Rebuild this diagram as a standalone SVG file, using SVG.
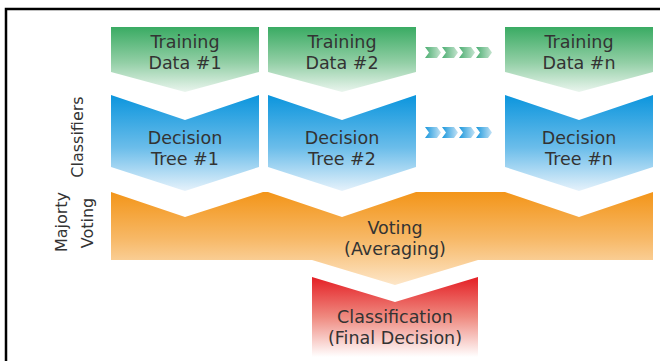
<svg xmlns="http://www.w3.org/2000/svg" width="660" height="361" viewBox="0 0 660 361">
<defs>
<linearGradient id="gGreen" x1="0" y1="0" x2="0" y2="1"><stop offset="0" stop-color="#3aab63"/><stop offset="0.55" stop-color="#93cfa6"/><stop offset="1" stop-color="#eaf5ee"/></linearGradient>
<linearGradient id="gBlue" x1="0" y1="0" x2="0" y2="1"><stop offset="0" stop-color="#0b95dd"/><stop offset="0.55" stop-color="#6bbdea"/><stop offset="1" stop-color="#e6f2fb"/></linearGradient>
<linearGradient id="gOrange" x1="0" y1="0" x2="0" y2="1"><stop offset="0" stop-color="#f39519"/><stop offset="0.5" stop-color="#f7b866"/><stop offset="1" stop-color="#fde6c8"/></linearGradient>
<linearGradient id="gRed" x1="0" y1="0" x2="0" y2="1"><stop offset="0" stop-color="#e41f25"/><stop offset="0.5" stop-color="#ef8a80"/><stop offset="1" stop-color="#ffffff"/></linearGradient>
<linearGradient id="gChevG" x1="0" y1="0" x2="1" y2="0"><stop offset="0" stop-color="#4cae72"/><stop offset="1" stop-color="#c5e4cf"/></linearGradient>
<linearGradient id="gChevB" x1="0" y1="0" x2="1" y2="0"><stop offset="0" stop-color="#1997dc"/><stop offset="1" stop-color="#c3e2f6"/></linearGradient>
<path id="chev" d="M0,0 H12 L16,5.5 L12,11 H0 L4,5.5 Z"/>
</defs>
<style>
text{font-family:"DejaVu Sans","Liberation Sans",sans-serif;fill:#333333;font-size:17.5px;text-anchor:middle}
.side{font-size:16px}
.green{fill:url(#gGreen)}
.blue{fill:url(#gBlue)}
</style>
<rect width="660" height="361" fill="#ffffff"/>
<polyline points="6,361 6,9 660,9" fill="none" stroke="#000" stroke-width="2.5"/>

<text class="side" transform="translate(83,137) rotate(-90)">Classifiers</text>
<text class="side" transform="rotate(-90)"><tspan x="-222" y="67">Majorty</tspan><tspan x="-223" y="93">Voting</tspan></text>

<g id="train1"><path class="green" d="M111,27 H259 V72 L185,92 L111,72 Z"/><text><tspan x="185" y="48">Training</tspan><tspan x="185" y="69">Data #1</tspan></text></g>
<g id="train2"><path class="green" d="M268,27 H416 V72 L342,92 L268,72 Z"/><text><tspan x="342" y="48">Training</tspan><tspan x="342" y="69">Data #2</tspan></text></g>
<g id="trainN"><path class="green" d="M505,27 H653 V72 L579,92 L505,72 Z"/><text><tspan x="579" y="48">Training</tspan><tspan x="579" y="69">Data #n</tspan></text></g>

<g id="tree1"><path class="blue" d="M111,95 L185,120 L259,95 V167 L185,191 L111,167 Z"/><text><tspan x="185" y="144">Decision</tspan><tspan x="185" y="165">Tree #1</tspan></text></g>
<g id="tree2"><path class="blue" d="M268,95 L342,120 L416,95 V167 L342,191 L268,167 Z"/><text><tspan x="342" y="144">Decision</tspan><tspan x="342" y="165">Tree #2</tspan></text></g>
<g id="treeN"><path class="blue" d="M505,95 L579,120 L653,95 V167 L579,191 L505,167 Z"/><text><tspan x="579" y="144">Decision</tspan><tspan x="579" y="165">Tree #n</tspan></text></g>

<g id="voting"><path fill="url(#gOrange)" d="M111,192 L185,217 L263,192 L268,192 L342,217 L416,192 L505,192 L579,217 L653,192 V260 H478 L395,285 L312,260 H111 Z"/><text><tspan x="395" y="234">Voting</tspan><tspan x="395" y="255">(Averaging)</tspan></text></g>

<g id="classification"><path fill="url(#gRed)" d="M312,277 L395,302 L478,277 V357 H312 Z"/><text><tspan x="395" y="323">Classification</tspan><tspan x="395" y="344">(Final Decision)</tspan></text></g>

<g id="connectors">
<use href="#chev" x="425" y="47" fill="url(#gChevG)"/>
<use href="#chev" x="442" y="47" fill="url(#gChevG)"/>
<use href="#chev" x="459" y="47" fill="url(#gChevG)"/>
<use href="#chev" x="476" y="47" fill="url(#gChevG)"/>
<use href="#chev" x="425" y="127" fill="url(#gChevB)"/>
<use href="#chev" x="442" y="127" fill="url(#gChevB)"/>
<use href="#chev" x="459" y="127" fill="url(#gChevB)"/>
<use href="#chev" x="476" y="127" fill="url(#gChevB)"/>
</g>
</svg>
